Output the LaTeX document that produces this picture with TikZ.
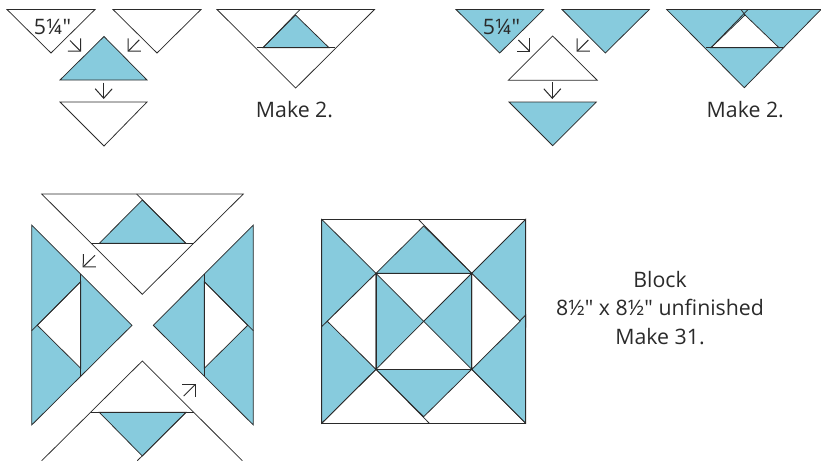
\documentclass[tikz,border=0pt]{standalone}
\usepackage{fontspec}
\newfontfamily\labelfont{Open Sans}
\usetikzlibrary{arrows.meta}
\definecolor{quilt}{HTML}{87CBDD}
\definecolor{ink}{HTML}{2A2A2A}
\tikzset{
  piece/.style={draw=ink,line width=0.75pt,line join=miter,fill=white},
  bluepiece/.style={piece,fill=quilt},
  seam/.style={draw=ink,line width=0.75pt},
  heavy/.style={draw=ink,line width=1pt},
  arr/.style={draw=ink,line width=1pt,-{Straight Barb[length=9pt,width=18pt,line width=1pt]}},
  downarr/.style={draw=ink,line width=1pt,-{Straight Barb[length=9.5pt,width=17pt,line width=1pt]}},
  label/.style={text=ink,font=\labelfont\fontsize{21.3}{25}\selectfont,inner sep=0pt,anchor=base},
}
\begin{document}
\begin{tikzpicture}[x=1pt,y=-1pt]
\useasboundingbox (0,0) rectangle (821,461);
% ---- top-left pieces
\draw[piece] (7,9.5) -- (95,9.5) -- (51,53) -- cycle;
\draw[piece] (113,9.5) -- (201,9.5) -- (157,53) -- cycle;
\draw[bluepiece] (60,80) -- (104,36.5) -- (147,80) -- cycle;
\draw[piece] (60,102) -- (147,102) -- (104,146) -- cycle;
\draw[arr] (70,40.5) -- (81,51.7);
\draw[arr] (139.3,39.8) -- (127.7,51.7);
\draw[downarr] (103.7,82.5) -- (103.7,99);
\node[label] (sizeA) at (52.5,34.3) {5¼"};
% ---- top-left assembled
\draw[piece] (217,9.5) -- (374.5,9.5) -- (295.7,88) -- cycle;
\draw[bluepiece] (263,47.7) -- (295.5,15) -- (329,47.7) -- cycle;
\draw[seam] (300,9.5) -- (263,47.7);
\draw[seam] (256.7,47.7) -- (335,47.7);
\node[label] (makeA) at (294.5,117.3) {Make 2.};
% ---- top-right pieces
\draw[bluepiece] (456,9.5) -- (543.7,9.5) -- (499.7,53) -- cycle;
\draw[bluepiece] (562,9.5) -- (649.3,9.5) -- (605.3,53) -- cycle;
\draw[piece] (508.3,80.3) -- (552.7,36) -- (597.3,80.3) -- cycle;
\draw[bluepiece] (509,102) -- (596.3,102) -- (552.7,145.7) -- cycle;
\draw[arr] (518.3,40) -- (530,51.7);
\draw[arr] (588.3,40) -- (576.7,51.7);
\draw[downarr] (552.3,82.3) -- (552.3,99);
\node[label] (sizeB) at (501.5,34.3) {5¼"};
% ---- top-right assembled
\draw[bluepiece] (666.7,9.5) -- (821,9.5) -- (744.3,87.7) -- cycle;
\draw[piece] (711,47.7) -- (745,15) -- (779,47.7) -- cycle;
\draw[seam] (748,9.5) -- (711,47.7);
\draw[seam] (741,9.5) -- (745,15);
\draw[heavy] (706,47.7) -- (783.3,47.7);
\node[label] (makeB) at (745.3,117.3) {Make 2.};
% ---- exploded block: top
\draw[piece] (41.7,194) -- (243.3,194) -- (142.3,294.3) -- cycle;
\draw[bluepiece] (99.3,243.3) -- (142.3,200) -- (186,243.3) -- cycle;
\draw[seam] (136.7,194) -- (186,243.3);
\draw[seam] (91,243.3) -- (194,243.3);
% exploded block: left
\draw[bluepiece] (31.7,225) -- (132,325.3) -- (31.7,425) -- cycle;
\draw[piece] (37.3,325.3) -- (80.7,281.7) -- (80.7,368.3) -- cycle;
\draw[seam] (31.7,330.7) -- (80.7,281.7);
\draw[heavy] (80.7,274) -- (80.7,376);
% exploded block: right
\draw[bluepiece] (253.3,225) -- (153.3,325.3) -- (253.3,425) -- cycle;
\draw[piece] (247.7,325.3) -- (204.3,281.7) -- (204.3,368.3) -- cycle;
\draw[seam] (253.3,330.7) -- (204.3,281.7);
\draw[heavy] (204.3,274) -- (204.3,376);
% exploded block: bottom
\draw[seam] (41.7,460.7) -- (142.3,361) -- (242.3,460.7);
\draw[bluepiece] (99.3,412.3) -- (186,412.3) -- (142.3,456) -- cycle;
\draw[seam] (186,412.3) -- (137.3,460.7);
\draw[seam] (91,412.3) -- (194,412.3);
\draw[arr] (95,255.3) -- (82.7,267.3);
\draw[arr] (183.7,396) -- (195.7,384);
% ---- finished block
\draw[piece] (321.7,219.3) rectangle (525.7,423.3);
\draw[bluepiece] (321.7,315) -- (376,369.3) -- (321.7,423.3) -- cycle;
\draw[bluepiece] (321.7,219.3) -- (376,273.3) -- (321.7,326.7) -- cycle;
\draw[piece] (327.3,321.3) -- (376,273.3) -- (376,369.3) -- cycle;
\draw[bluepiece] (525.7,219.3) -- (471.7,273.3) -- (525.7,326.7) -- cycle;
\draw[bluepiece] (525.7,315) -- (471.7,369.3) -- (525.7,423.3) -- cycle;
\draw[piece] (520.1,321.3) -- (471.7,273.3) -- (471.7,369.3) -- cycle;
\draw[bluepiece] (376,273.3) -- (423.7,226) -- (471.7,273.3) -- cycle;
\draw[seam] (418.3,219.3) -- (471.7,273.3);
\draw[bluepiece] (376,369.3) -- (471.7,369.3) -- (423.7,416.7) -- cycle;
\draw[seam] (376,369.3) -- (429.3,423.3);
\draw[seam] (321.7,423.3) -- (376,369.3);
\draw[seam] (525.7,423.3) -- (471.7,369.3);
\draw[heavy,fill=white] (376,273.3) rectangle (471.7,369.3);
\draw[bluepiece] (376,273.3) -- (423.7,321.3) -- (376,369.3) -- cycle;
\draw[bluepiece] (471.7,273.3) -- (423.7,321.3) -- (471.7,369.3) -- cycle;
\draw[heavy] (376,273.3) rectangle (471.7,369.3);
\draw[piece,fill=none] (321.7,219.3) rectangle (525.7,423.3);
% ---- caption
\node[label] (capA) at (660,287) {Block};
\node[label] (capB) at (660,315.5) {8½" x 8½" unfinished};
\node[label] (capC) at (660,344) {Make 31.};
\end{tikzpicture}
\end{document}
